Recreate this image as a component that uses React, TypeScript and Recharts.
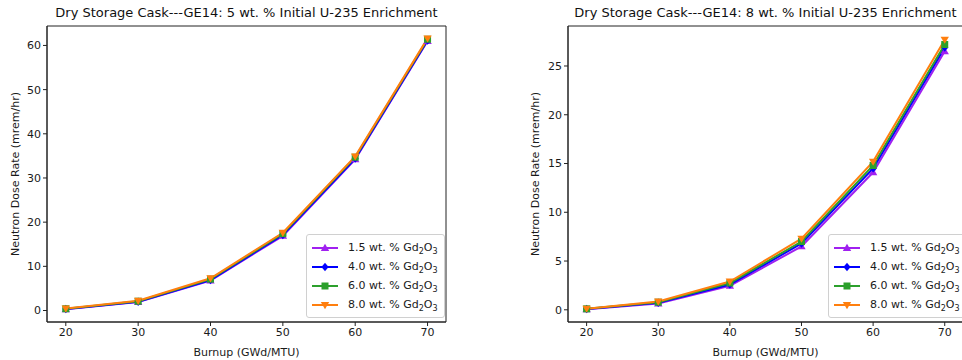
import React from 'react';
import { LineChart, Line, XAxis, YAxis, ReferenceArea } from 'recharts';

const FONT = '"DejaVu Sans", Verdana, sans-serif';

const BURNUP = [20, 30, 40, 50, 60, 70];

// 5 wt. % initial enrichment
const E5_GD15 = [0.3, 1.9, 6.8, 16.9, 34.2, 61.0];
const E5_GD40 = [0.35, 2.0, 6.9, 17.1, 34.4, 61.1];
const E5_GD60 = [0.4, 2.1, 7.1, 17.4, 34.7, 61.4];
const E5_GD80 = [0.45, 2.2, 7.3, 17.6, 34.9, 61.6];

// 8 wt. % initial enrichment
const E8_GD15 = [0.05, 0.65, 2.45, 6.5, 14.1, 26.5];
const E8_GD40 = [0.08, 0.72, 2.6, 6.8, 14.5, 26.9];
const E8_GD60 = [0.1, 0.78, 2.75, 7.0, 14.8, 27.2];
const E8_GD80 = [0.12, 0.85, 2.9, 7.3, 15.2, 27.7];

const X_TICKS = [20, 30, 40, 50, 60, 70];
const LEFT_Y_TICKS = [0, 10, 20, 30, 40, 50, 60];
const RIGHT_Y_TICKS = [0, 5, 10, 15, 20, 25];

const SERIES = [
  { key: 'gd15', pct: '1.5', color: '#a020f0', shape: 'tri-up' },
  { key: 'gd40', pct: '4.0', color: '#0000ff', shape: 'diamond' },
  { key: 'gd60', pct: '6.0', color: '#2ca02c', shape: 'square' },
  { key: 'gd80', pct: '8.0', color: '#ff7f0e', shape: 'tri-down' },
];

const build = (a: number[], b: number[], c: number[], d: number[]) =>
  BURNUP.map((x, i) => ({ x, gd15: a[i], gd40: b[i], gd60: c[i], gd80: d[i] }));

const LEFT_DATA = build(E5_GD15, E5_GD40, E5_GD60, E5_GD80);
const RIGHT_DATA = build(E8_GD15, E8_GD40, E8_GD60, E8_GD80);

const X_DOMAIN = [17.4, 72.55];

function Marker({ cx, cy, shape, color }: { cx: number; cy: number; shape: string; color: string }) {
  const r = 4.2;
  if (shape === 'tri-up')
    return <polygon points={`${cx},${cy - r} ${cx - r},${cy + r * 0.7} ${cx + r},${cy + r * 0.7}`} fill={color} />;
  if (shape === 'tri-down')
    return <polygon points={`${cx},${cy + r} ${cx - r},${cy - r * 0.7} ${cx + r},${cy - r * 0.7}`} fill={color} />;
  if (shape === 'diamond')
    return <polygon points={`${cx},${cy - r} ${cx + r * 0.85},${cy} ${cx},${cy + r} ${cx - r * 0.85},${cy}`} fill={color} />;
  return <rect x={cx - 3.5} y={cy - 3.5} width={7} height={7} fill={color} />;
}

const dotFor = (shape: string, color: string) => (p: any) =>
  <Marker key={`${shape}-${p.index}`} cx={p.cx} cy={p.cy} shape={shape} color={color} />;

const TICK = { fill: '#1a1a1a', fontSize: 11, fontFamily: FONT };
const SUB = { fontSize: 8, verticalAlign: 'baseline', position: 'relative' as const, top: 3, lineHeight: 0 };

function Legend({ left, top }: { left: number; top: number }) {
  return (
    <div style={{
      position: 'absolute', left, top, background: '#fff', border: '1px solid #d0d0d0', borderRadius: 3,
      padding: '3px 6px 3px 4px', fontFamily: FONT, fontSize: 11, color: '#1a1a1a', whiteSpace: 'nowrap',
    }}>
      {SERIES.map((s) => (
        <div key={s.key} style={{ display: 'flex', alignItems: 'center', height: 19, lineHeight: '19px' }}>
          <svg width={28} height={12} style={{ marginRight: 9 }}>
            <line x1={1} y1={6} x2={27} y2={6} stroke={s.color} strokeWidth={2} />
            <Marker cx={14} cy={6} shape={s.shape} color={s.color} />
          </svg>
          <span>{s.pct} wt. % Gd<span style={SUB}>2</span>O<span style={SUB}>3</span></span>
        </div>
      ))}
    </div>
  );
}

function Panel({ data, left, width, right, yWidth, yDomain, yTicks, title, legendLeft }: any) {
  return (
    <div style={{ position: 'absolute', left, top: 0, width, height: 360 }}>
      <div style={{
        position: 'absolute', top: 5, left: yWidth, width: width - yWidth - right, textAlign: 'center',
        fontFamily: FONT, fontSize: 13, color: '#111', whiteSpace: 'nowrap',
      }}>{title}</div>
      <LineChart width={width} height={360} data={data} margin={{ top: 26, right, left: 0, bottom: 0 }}>
        <XAxis dataKey="x" type="number" domain={X_DOMAIN} ticks={X_TICKS} allowDataOverflow
          tick={TICK} tickSize={4} tickLine={{ stroke: '#222' }} axisLine={{ stroke: '#222' }} height={38}
          label={{ value: 'Burnup (GWd/MTU)', position: 'insideBottom', offset: 4, fill: '#1a1a1a', fontSize: 11, fontFamily: FONT }} />
        <YAxis type="number" domain={yDomain} ticks={yTicks} allowDataOverflow width={yWidth}
          tick={TICK} tickSize={4} tickLine={{ stroke: '#222' }} axisLine={{ stroke: '#222' }}
          label={{
            content: ({ viewBox }: any) => (
              <text x={16} y={viewBox.y + viewBox.height / 2} transform={`rotate(-90, 16, ${viewBox.y + viewBox.height / 2})`}
                textAnchor="middle" dominantBaseline="middle" fill="#1a1a1a" fontSize={11} fontFamily={FONT}>
                Neutron Dose Rate (mrem/hr)
              </text>
            ),
          }} />
        <ReferenceArea x1={X_DOMAIN[0]} x2={X_DOMAIN[1]} y1={yDomain[0]} y2={yDomain[1]} ifOverflow="visible"
          fill="none" fillOpacity={0} stroke="#222" strokeWidth={1} />
        {SERIES.map((s) => (
          <Line key={s.key} dataKey={s.key} stroke={s.color} strokeWidth={2} isAnimationActive={false}
            dot={dotFor(s.shape, s.color)} activeDot={false} />
        ))}
      </LineChart>
      <Legend left={legendLeft} top={234} />
    </div>
  );
}

export default function App() {
  return (
    <div style={{ position: 'fixed', left: 0, top: 0, width: 962, height: 360, overflow: 'hidden', background: '#fff' }}>
      <Panel data={LEFT_DATA} left={0} width={450} right={4} yWidth={47} yDomain={[-2.6, 64.4]} yTicks={LEFT_Y_TICKS}
        title="Dry Storage Cask---GE14: 5 wt. % Initial U-235 Enrichment" legendLeft={306} />
      <Panel data={RIGHT_DATA} left={520} width={443} right={0} yWidth={48} yDomain={[-1.25, 29.1]} yTicks={RIGHT_Y_TICKS}
        title="Dry Storage Cask---GE14: 8 wt. % Initial U-235 Enrichment" legendLeft={308} />
    </div>
  );
}
